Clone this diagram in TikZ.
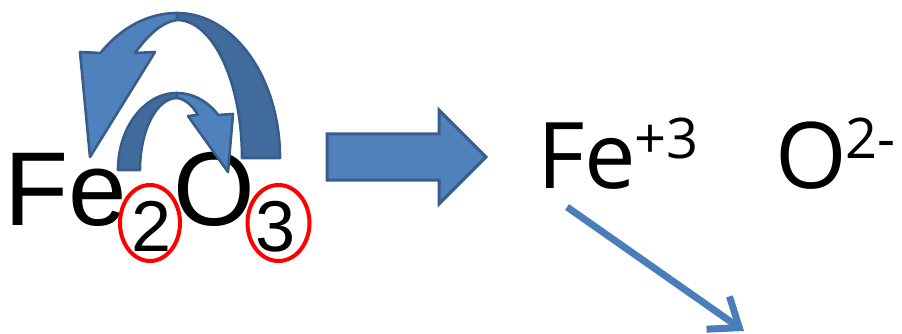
\documentclass[tikz,border=0pt]{standalone}
\usepackage{fontspec}
\setmainfont{Liberation Sans}
\newfontfamily\ionfont{Open Sans}
\usetikzlibrary{arrows.meta,positioning,shapes.geometric}
\definecolor{shapeblue}{HTML}{4F81BD}
\definecolor{shapedark}{HTML}{416B9D}
\definecolor{shapeedge}{HTML}{385D8A}
\definecolor{lineblue}{HTML}{4A7EBB}
\tikzset{
  bigtext/.style={anchor=base west, inner sep=0pt, font=\fontsize{105}{110}\selectfont},
  subtext/.style={anchor=base west, inner sep=0pt, font=\fontsize{72}{76}\selectfont},
  iontext/.style={anchor=base west, inner sep=0pt, font=\ionfont\fontsize{92}{96}\selectfont},
  supertext/.style={anchor=base west, inner sep=0pt, font=\ionfont\fontsize{56}{60}\selectfont},
  redring/.style={draw=red, line width=4pt},
  lightband/.style={fill=shapeblue, draw=shapeedge, line width=2.6pt, line join=round},
  darkband/.style={fill=shapedark, draw=shapeedge, line width=2.6pt, line join=round},
  blockarrow/.style={fill=shapeblue, draw=shapeedge, line width=3pt, line join=miter},
  linearrow/.style={draw=lineblue, line width=7pt, -{Straight Barb[length=26pt, width=40pt]}}
}
\begin{document}
\begin{tikzpicture}[x=1pt, y=-1pt]
\useasboundingbox (0,0) rectangle (902,334);
\node[bigtext] (fe) at (4,225) {Fe};
\node[subtext] (two) at (131,251) {2};
\node[bigtext] (ox) at (173,225) {O};
\node[subtext] (three) at (255,251) {3};
\draw[redring] (150,223) ellipse [x radius=30, y radius=38];
\draw[redring] (278.5,223) ellipse [x radius=31, y radius=38];
\draw[darkband] (280,158) arc[start angle=0, end angle=-90, x radius=103, y radius=145]
  -- (177,20) arc[start angle=-90, end angle=0, x radius=65, y radius=138] -- cycle;
\draw[lightband] (177,13) arc[start angle=-90, end angle=-133.6, x radius=111, y radius=145]
  -- (80,52) -- (90,157) -- (155,52) -- (135,53)
  .. controls (148,35) and (162,22) .. (177,20) -- cycle;
\draw[darkband] (118,170) arc[start angle=-180, end angle=-90, x radius=59, y radius=77]
  -- (177,98) arc[start angle=-90, end angle=-180, x radius=37, y radius=72] -- cycle;
\draw[lightband] (177,93) arc[start angle=-90, end angle=-45.6, x radius=59, y radius=77]
  -- (233,114) -- (228,172) -- (188,116) -- (198,115)
  .. controls (192,105) and (185,99) .. (177,98) -- cycle;
\draw[blockarrow] (327,134) -- (439,134) -- (439,110) -- (486,157) -- (439,204)
  -- (439,180) -- (327,180) -- cycle;
\node[iontext] (feion) at (537,188) {Fe};
\node[supertext] (fecharge) at (634,158) {+3};
\node[iontext] (oion) at (775,188) {O};
\node[supertext] (ocharge) at (845,158) {2-};
\coordinate (linestart) at (567,207);
\coordinate (lineend) at (744,331);
\draw[linearrow] (linestart) -- (lineend);
\end{tikzpicture}
\end{document}
